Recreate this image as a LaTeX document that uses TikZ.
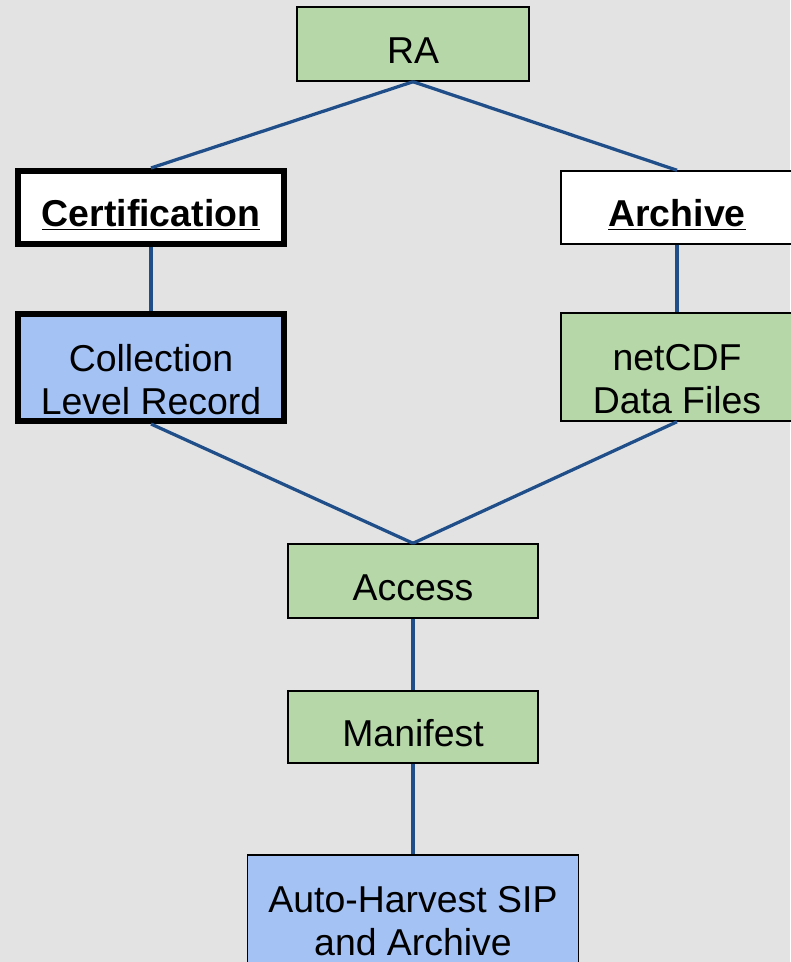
\documentclass[tikz,border=0pt]{standalone}
\usepackage{fontspec}
\setmainfont{Liberation Sans}
\usepackage{xcolor}
\usepackage{tikz}
\definecolor{bggray}{HTML}{E3E3E3}
\definecolor{boxgreen}{HTML}{B6D7A8}
\definecolor{boxblue}{HTML}{A4C2F4}
\definecolor{linkblue}{HTML}{1F4E89}
\begin{document}
\begin{tikzpicture}[x=0.02cm, y=-0.02cm,
    box/.style={draw=black, line width=0.03cm, inner sep=0pt, align=center,
      font=\fontsize{21.3pt}{24.6pt}\selectfont},
    oneline/.style={box, text height=22pt, text depth=0pt},
    twoline/.style={box, text height=53.4pt, text depth=0pt},
    heavy/.style={line width=0.12cm},
    link/.style={draw=linkblue, line width=0.065cm}]
    \fill[bggray] (0, 0) rectangle (790, 962);
    \useasboundingbox (0, 0) rectangle (790, 962);
    \node[oneline, fill=boxgreen, minimum width=4.64cm, minimum height=1.48cm] (ra) at (413, 44) {RA};
    \node[oneline, heavy, fill=white, minimum width=5.32cm, minimum height=1.46cm] (cert) at (151, 207.5) {\textbf{\underline{Certification}}};
    \node[oneline, fill=white, minimum width=4.64cm, minimum height=1.46cm] (arch) at (677, 207.5) {\textbf{\underline{Archive}}};
    \node[twoline, heavy, fill=boxblue, minimum width=5.32cm, minimum height=2.14cm] (clr) at (151, 367.5) {Collection\\Level Record};
    \node[twoline, fill=boxgreen, minimum width=4.64cm, minimum height=2.16cm] (ncdf) at (677, 367) {netCDF\\Data Files};
    \node[oneline, fill=boxgreen, minimum width=5cm, minimum height=1.48cm] (access) at (413, 581) {Access};
    \node[oneline, fill=boxgreen, minimum width=5cm, minimum height=1.44cm] (manifest) at (413, 727) {Manifest};
    \node[twoline, fill=boxblue, minimum width=6.62cm, minimum height=2.16cm] (sip) at (413, 909) {Auto-Harvest SIP\\and Archive};
    \draw[link] (ra.south) -- (cert.north);
    \draw[link] (ra.south) -- (arch.north);
    \draw[link] (cert.south) -- (clr.north);
    \draw[link] (arch.south) -- (ncdf.north);
    \draw[link] (clr.south) -- (access.north);
    \draw[link] (ncdf.south) -- (access.north);
    \draw[link] (access.south) -- (manifest.north);
    \draw[link] (manifest.south) -- (sip.north);
\end{tikzpicture}
\end{document}
